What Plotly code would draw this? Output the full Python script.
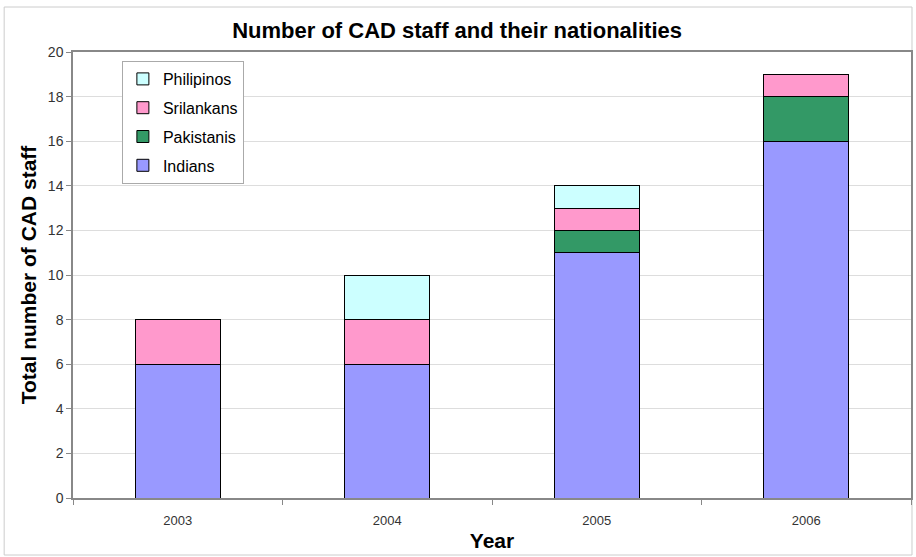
import plotly.graph_objects as go

years = ["2003", "2004", "2005", "2006"]
indians = [6, 6, 11, 16]
pakistanis = [0, 0, 1, 2]
srilankans = [2, 2, 1, 1]
philipinos = [0, 2, 1, 0]

series = [
    ("Indians", indians, "#9999FF", 4),
    ("Pakistanis", pakistanis, "#339966", 3),
    ("Srilankans", srilankans, "#FF99CC", 2),
    ("Philipinos", philipinos, "#CCFFFF", 1),
]

fig = go.Figure()
for name, vals, col, rank in series:
    fig.add_trace(go.Bar(
        x=years, y=vals, name=name, legendgroup=name, legendrank=rank,
        marker=dict(color=col, line=dict(color="#000000", width=1)),
    ))

L, R, T, B = 73, 3, 52, 59
W, H = 916, 557
pw, ph = W - L - R, H - T - B

fig.update_layout(
    width=W, height=H,
    barmode="stack", bargap=0.595,
    margin=dict(l=L, r=R, t=T, b=B),
    paper_bgcolor="white", plot_bgcolor="white",
    font=dict(family="Liberation Sans, Arial, sans-serif", color="#000"),
    title=dict(text="<b>Number of CAD staff and their nationalities</b>",
               x=(458 - L) / pw, xanchor="center", xref="paper",
               y=1 - 30 / H, yanchor="middle",
               font=dict(size=22, color="#000")),
    showlegend=True,
    legend=dict(
        x=(122 - L) / pw, y=(498 - 61) / ph, xanchor="left", yanchor="top",
        bgcolor="white", bordercolor="#AAAAAA", borderwidth=1,
        traceorder="grouped", tracegroupgap=5, itemwidth=30,
        font=dict(size=16, color="#000"),
    ),
    xaxis=dict(
        title=dict(text="<b>Year</b>", font=dict(size=21, color="#000"), standoff=6),
        tickfont=dict(size=13, color="#333"),
        ticklabelstandoff=10,
        showline=True, linecolor="#888", linewidth=1.5, mirror=True,
        ticks="outside", tickson="boundaries", ticklen=5, tickcolor="#888",
        showgrid=False,
    ),
    yaxis=dict(
        title=dict(text="<b>Total number of CAD staff</b>", font=dict(size=21, color="#000"), standoff=6),
        tickfont=dict(size=14, color="#333"),
        range=[0, 20], dtick=2,
        showline=True, linecolor="#888", linewidth=1.5, mirror=True,
        ticks="outside", ticklen=5, tickcolor="#888",
        showgrid=True, gridcolor="#DDDDDD", gridwidth=1,
        zeroline=False,
    ),
)

# outer chart border
fig.add_shape(type="rect", xref="paper", yref="paper",
              x0=(4 - L) / pw, x1=(914 - L) / pw,
              y0=(498 - 555) / ph, y1=(498 - 7) / ph,
              line=dict(color="#CCCCCC", width=1), layer="below")

fig.write_html("out.html")
